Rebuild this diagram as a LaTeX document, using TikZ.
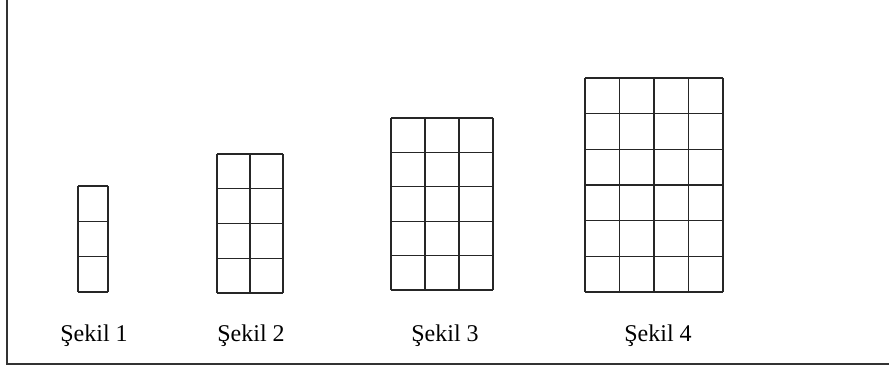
\documentclass[tikz,border=0pt]{standalone}
\usepackage{fontspec}
\setmainfont{Liberation Serif}
\usepackage{tikz}

\tikzset{
  cellline/.style={line width=0.35mm, black!85},
  framestyle/.style={line width=0.45mm, black!80},
  caption/.style={anchor=base, inner sep=0pt, font=\fontsize{20.5}{24}\selectfont}
}

\begin{document}
\begin{tikzpicture}[x=0.3mm, y=-0.3mm]
\useasboundingbox (0,0) rectangle (889,367);
% outer frame (left and bottom only)
\draw[framestyle] (7,0) -- (7,364) -- (889,364);
% grids: left/top corner, cell width/height, columns, rows
\foreach \xo/\yo/\w/\h/\nc/\nr in {78/186/30/35.33/1/3, 217/154/33/34.75/2/4,
                                   391/118/34/34.4/3/5, 585/78/34.5/35.67/4/6}{
  \foreach \i in {0,...,\nc} \draw[cellline] (\xo+\i*\w,\yo) -- (\xo+\i*\w,\yo+\nr*\h);
  \foreach \j in {0,...,\nr} \draw[cellline] (\xo,\yo+\j*\h) -- (\xo+\nc*\w,\yo+\j*\h);
}
% captions
\node[caption] (s1) at (94,341) {Şekil 1};
\node[caption] (s2) at (251,341) {Şekil 2};
\node[caption] (s3) at (445,341) {Şekil 3};
\node[caption] (s4) at (658,341) {Şekil 4};
\end{tikzpicture}
\end{document}
